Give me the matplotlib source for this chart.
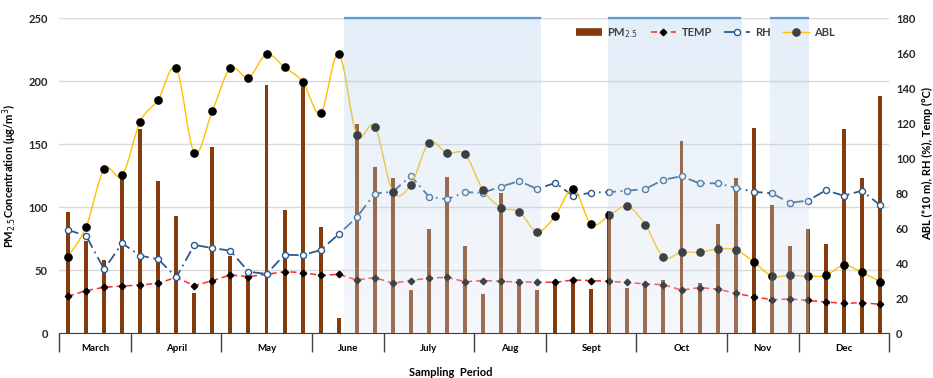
import numpy as np
import matplotlib
matplotlib.use("Agg")
import matplotlib.pyplot as plt
from matplotlib.path import Path
from matplotlib.patches import PathPatch
from matplotlib.lines import Line2D

plt.rcParams['font.family'] = ['Lato', 'DejaVu Sans']

# sampling campaign: one entry per sample, grouped by month
months = ["March", "April", "May", "June", "July", "Aug", "Sept", "Oct", "Nov", "Dec"]
samples_per_month = [4, 5, 5, 4, 5, 4, 5, 5, 4, 5]

pm25 = [96, 73, 58, 126, 162, 121, 93, 32, 148, 61,
        45, 197, 98, 200, 84, 12, 166, 132, 123, 34,
        83, 124, 69, 31, 111, 43, 34, 40, 42, 35,
        97, 36, 38, 42, 153, 40, 87, 123, 163, 102,
        69, 83, 71, 162, 123, 188]

temp = [21.1, 24.4, 26.3, 27.0, 27.6, 28.6, 32.0, 27.2, 30.1, 33.3,
        32.4, 33.7, 35.2, 34.7, 33.1, 33.7, 30.5, 31.8, 28.7, 30.1,
        31.6, 32.0, 29.5, 30.1, 29.7, 29.3, 29.3, 29.1, 30.5, 30.1,
        29.7, 29.1, 28.2, 27.8, 24.7, 26.1, 25.3, 22.8, 20.9, 19.2,
        19.6, 18.8, 17.9, 17.1, 17.5, 16.6]

rh = [59.0, 55.8, 36.6, 51.4, 44.4, 42.3, 32.0, 50.5, 48.7, 47.2,
      35.2, 33.9, 44.9, 44.6, 47.6, 56.6, 66.3, 79.8, 80.9, 89.9,
      78.1, 76.6, 80.6, 80.4, 83.8, 87.0, 82.5, 85.9, 78.5, 80.4,
      80.7, 81.5, 82.5, 87.8, 89.7, 85.7, 85.7, 83.2, 80.9, 80.0,
      74.6, 75.8, 81.7, 78.6, 81.5, 73.3]

abl = [43.8, 60.7, 93.7, 90.3, 120.9, 133.5, 151.4, 103.2, 127.2, 151.4,
       146.1, 159.4, 152.0, 143.8, 125.9, 159.8, 113.5, 118.1, 80.9, 84.9,
       108.9, 102.9, 102.3, 81.9, 71.8, 69.5, 58.1, 67.0, 82.6, 62.3,
       67.4, 72.6, 61.9, 43.6, 46.3, 46.3, 48.2, 47.6, 40.9, 32.7,
       33.1, 32.6, 33.1, 38.9, 34.8, 29.5]

# highlighted periods, in sample-index units
shaded_spans = [(15.3, 26.2), (29.9, 37.3), (38.9, 41.05)]


def smooth_path(xs, ys):
    # Catmull-Rom through the points, written as cubic Bezier segments
    pts = np.column_stack([xs, ys]).astype(float)
    verts = [pts[0]]
    codes = [Path.MOVETO]
    n = len(pts)
    for i in range(n - 1):
        p0 = pts[i - 1] if i > 0 else pts[i]
        p1 = pts[i]
        p2 = pts[i + 1]
        p3 = pts[i + 2] if i + 2 < n else pts[i + 1]
        verts += [p1 + (p2 - p0) / 6, p2 - (p3 - p1) / 6, p2]
        codes += [Path.CURVE4] * 3
    return Path(verts, codes)


x = np.arange(len(pm25))
edges = np.concatenate([[0], np.cumsum(samples_per_month)]) - 0.5
centers = (edges[:-1] + edges[1:]) / 2

temp_style = dict(color="#ff2a2a", lw=1.1, ls=(0, (4, 2.5)), marker="D",
                  ms=3.3, mfc="black", mec="black")
rh_style = dict(color="#2b5b8c", lw=1.3, ls=(0, (6, 2.5, 1, 2.5)), marker="o",
                ms=4.4, mfc="white", mec="#2b5b8c", mew=1.0)

fig = plt.figure(figsize=(9.33, 3.78), dpi=100)
ax = fig.add_axes([59 / 933, 1 - 333.3 / 378, 830 / 933, 315 / 378])
ax2 = ax.twinx()

ax.bar(x, pm25, width=0.22, color="#843c0c", zorder=2)
ax.set_ylim(0, 250)
ax.set_yticks(range(0, 251, 50))
ax.yaxis.grid(True, color="#d9d9d9", lw=1)
ax.set_axisbelow(True)

ax2.plot(x, temp, zorder=3, **temp_style)
ax2.plot(x, rh, zorder=3, **rh_style)
ax2.add_patch(PathPatch(smooth_path(x, abl), fill=False, edgecolor="#ffc000",
                        lw=1.0, zorder=3))
ax2.plot(x, abl, ls="none", marker="o", ms=5.2, color="black", zorder=4)

# translucent bands over the highlighted periods, bluish at the top
top = np.array([165, 198, 232]) / 255
bottom = np.array([222, 232, 242]) / 255
t = np.linspace(0, 1, 200)[:, None]
grad = np.zeros((200, 1, 4))
grad[:, 0, :3] = top * (1 - t) + bottom * t
grad[:, 0, 3] = 0.3
for x0, x1 in shaded_spans:
    ax2.imshow(grad, extent=(x0, x1, 0, 180), aspect="auto", zorder=6,
               interpolation="bilinear")
    ax2.plot([x0, x1], [180, 180], color="#5b9bd5", lw=1.6, zorder=7,
             solid_capstyle="butt", clip_on=False)

ax2.set_ylim(0, 180)
ax2.set_yticks(range(0, 181, 20))
ax.set_xlim(-0.5, len(pm25) - 0.5)

for a in (ax, ax2):
    for side in ("left", "right", "top"):
        a.spines[side].set_visible(False)
    a.spines["bottom"].set_color("#404040")
ax2.spines["bottom"].set_visible(False)

ax.tick_params(axis="y", length=0, pad=8, labelsize=8, labelcolor="#262626")
ax2.tick_params(axis="y", length=0, pad=5, labelsize=8, labelcolor="#262626")
for lab in ax.get_yticklabels() + ax2.get_yticklabels():
    lab.set_fontweight("bold")

# month separators as long ticks, month names at the group centres
ax.set_xticks(edges)
ax.set_xticklabels([])
ax.set_xticks(centers, minor=True)
ax.set_xticklabels(months, minor=True, fontsize=7, fontweight="bold")
ax.tick_params(axis="x", which="major", length=14, width=1, color="#404040",
               direction="out")
ax.tick_params(axis="x", which="minor", length=0, pad=8)

ax.set_ylabel("PM$_{2.5}$Concentration (\u03bcg/m$^3$)", fontsize=8,
              fontweight="bold")
ax.yaxis.set_label_coords(-0.048, 0.5)
ax2.set_ylabel("ABL (*10 m), RH (%), Temp (\u00b0C)", fontsize=8,
               fontweight="bold")
ax2.yaxis.set_label_coords(1.04, 0.54)
fig.text(451 / 933, 1 - 372 / 378, "Sampling  Period", ha="center",
         va="center", fontsize=8, fontweight="bold")

handles = [
    Line2D([], [], color="#843c0c", lw=5.5, solid_capstyle="butt"),
    Line2D([], [], **temp_style),
    Line2D([], [], **rh_style),
    Line2D([], [], color="#ffc000", lw=1.0, marker="o", ms=5.2,
           mfc="#404040", mec="#404040"),
]
leg = ax2.legend(handles, ["PM$_{2.5}$", "TEMP", "RH", "ABL"], ncol=4,
                 loc="center left", bbox_to_anchor=(566 / 933, 1 - 33 / 378),
                 bbox_transform=fig.transFigure, frameon=False, fontsize=8,
                 handlelength=2.3, handletextpad=0.5, columnspacing=1.1)
leg.set_zorder(10)
for txt in leg.get_texts():
    txt.set_color("#404040")
    txt.set_fontweight("bold")

fig.savefig("out.png", dpi=100)
